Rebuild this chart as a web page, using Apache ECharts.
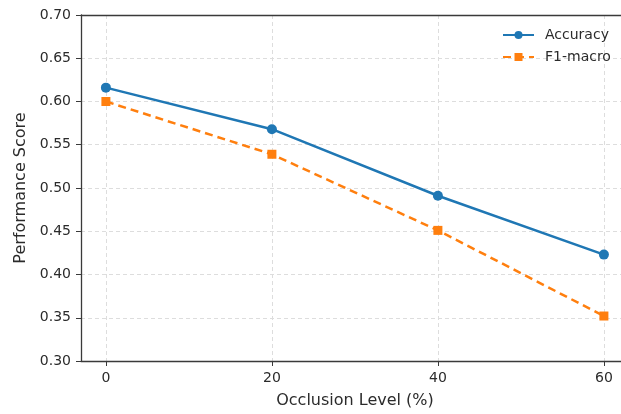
<!DOCTYPE html>
<html>
<head>
<meta charset="utf-8">
<script src="https://cdn.jsdelivr.net/npm/echarts@6/dist/echarts.min.js"></script>
<style>html,body{margin:0;padding:0;background:#fff;}#c{width:621px;height:414px;}</style>
</head>
<body>
<div id="c"></div>
<script>
var occlusion = [0, 20, 40, 60];
var accuracy = [0.616, 0.568, 0.491, 0.423];
var f1macro = [0.600, 0.539, 0.451, 0.352];
var xTicks = [0, 20, 40, 60];

var chart = echarts.init(document.getElementById('c'));
var gridLine = {show: true, lineStyle: {color: '#dddddd', type: [4, 3], width: 1}};
var font = 'DejaVu Sans';
var txt = '#2b2b2b';
var spine = {show: true, onZero: false, lineStyle: {color: '#3a3a3a', width: 1.3}};
chart.setOption({
  animation: false,
  textStyle: {fontFamily: font},
  grid: {left: 81, right: 0, top: 15, bottom: 52, show: false, containLabel: false},
  xAxis: [{
    type: 'value', min: -3, max: 62.06,
    name: 'Occlusion Level (%)', nameLocation: 'middle', nameGap: 32,
    nameTextStyle: {fontSize: 16, color: txt, fontFamily: font, padding: [0, 0, 0, 8]},
    axisLine: spine,
    axisTick: {show: true, customValues: xTicks, length: 5, lineStyle: {color: '#3a3a3a'}},
    axisLabel: {customValues: xTicks, fontSize: 14, color: txt, margin: 10, fontFamily: font},
    splitLine: gridLine
  }, {
    type: 'value', min: -3, max: 62.06, position: 'top',
    axisLine: spine, axisTick: {show: false}, axisLabel: {show: false}, splitLine: {show: false}
  }],
  yAxis: {
    type: 'value', min: 0.3, max: 0.7, interval: 0.05,
    name: 'Performance Score', nameLocation: 'middle', nameGap: 51,
    nameTextStyle: {fontSize: 16, color: txt, fontFamily: font},
    axisLine: spine,
    axisTick: {show: true, length: 5, lineStyle: {color: '#3a3a3a'}},
    axisLabel: {fontSize: 14, color: txt, margin: 10, fontFamily: font, formatter: function(v){return v.toFixed(2);}},
    splitLine: gridLine
  },
  legend: {
    orient: 'vertical', left: 497, top: 23, itemWidth: 31, itemHeight: 10, itemGap: 8,
    textStyle: {fontSize: 14, color: txt, fontFamily: font, padding: [0, 0, 0, 6]},
    data: ['Accuracy', 'F1-macro']
  },
  series: [
    {name: 'Accuracy', type: 'line', data: occlusion.map(function(x,i){return [x, accuracy[i]];}),
     symbol: 'circle', symbolSize: 10, itemStyle: {color: '#1f77b4'},
     lineStyle: {color: '#1f77b4', width: 2.5}},
    {name: 'F1-macro', type: 'line', data: occlusion.map(function(x,i){return [x, f1macro[i]];}),
     symbol: 'rect', symbolSize: 9, itemStyle: {color: '#ff7f0e'},
     lineStyle: {color: '#ff7f0e', width: 2.5, type: [8, 5]}}
  ]
});
</script>
</body>
</html>
